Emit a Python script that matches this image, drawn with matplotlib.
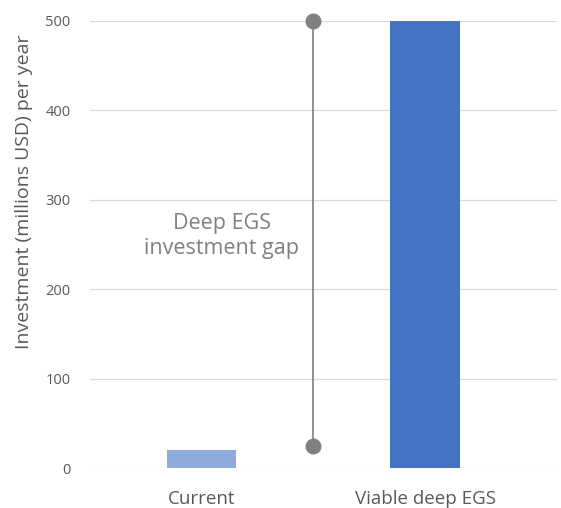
import matplotlib
matplotlib.use("Agg")
import matplotlib.pyplot as plt

categories = ["Current", "Viable deep EGS"]
values = [20, 500]
gap_low = 25
gap_high = 500
gap_label = "Deep EGS\ninvestment gap"
yticks = [0, 100, 200, 300, 400, 500]

plt.rcParams['font.family'] = ['Open Sans', 'DejaVu Sans']

fig = plt.figure(figsize=(5.61, 5.08), dpi=100)
ax = fig.add_axes([0.160, 0.0787, 0.833, 0.88])

xs = [0, 1]
ax.bar(xs, values, width=0.31, color=["#8faadc", "#4472c4"], zorder=3)
ax.plot([0.5, 0.5], [gap_low, gap_high], color="#808080", lw=1.2, zorder=4)
ax.scatter([0.5, 0.5], [gap_low, gap_high], s=110, color="#808080", zorder=5, clip_on=False)
ax.text(0.09, 260, gap_label, ha="center", va="center", fontsize=15.5, color="#808080",
        linespacing=1.25)

ax.set_xlim(-0.5, 1.59)
ax.set_ylim(0, 500)
ax.set_yticks(yticks)
ax.set_xticks(xs)
ax.set_xticklabels(categories, fontsize=13.5, color="#595959")
ax.tick_params(axis="y", labelsize=10.5, colors="#595959", length=0, pad=14)
ax.tick_params(axis="x", length=0, pad=16)
ax.grid(axis="y", color="#d9d9d9", lw=0.9, zorder=0)
for s in ax.spines.values():
    s.set_visible(False)
ax.set_ylabel("Investment (millions USD) per year", fontsize=14, color="#595959")
ax.yaxis.set_label_coords(-0.122, 0.617)

fig.savefig("out.png", dpi=100)
